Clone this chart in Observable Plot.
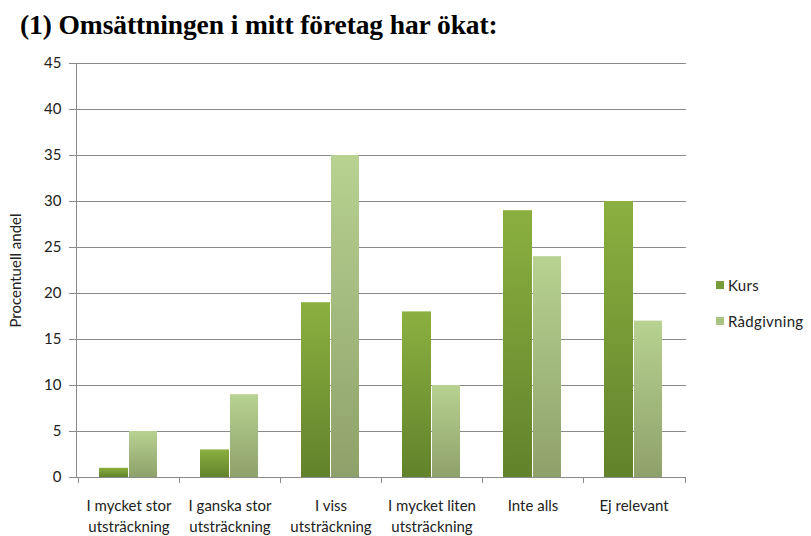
<!DOCTYPE html>
<html><head><meta charset="utf-8">
<script src="https://cdn.jsdelivr.net/npm/d3@7"></script>
<script src="https://cdn.jsdelivr.net/npm/@observablehq/plot@0.6"></script>
<style>
html,body{margin:0;padding:0;background:#fff;}
body{width:811px;height:536px;overflow:hidden;position:relative;font-family:Lato,"Open Sans",sans-serif;}
#title{position:absolute;left:20px;top:9px;font:bold 27.5px "Liberation Serif","DejaVu Serif",serif;color:#000;white-space:nowrap;letter-spacing:-0.1px;}
#chart{position:absolute;left:0;top:50px;}
#legend{position:absolute;left:716px;top:274px;font-size:15px;color:#222;letter-spacing:0.3px;}
#legend .item{display:flex;align-items:center;height:22px;margin-bottom:14px;}
#legend .sw{width:8px;height:8px;margin-right:4px;}
</style>
</head><body>
<div id="title">(1) Omsättningen i mitt företag har ökat:</div>
<div id="chart"></div>
<div id="legend"></div>
<script>
const categories = ["I mycket stor\nutsträckning", "I ganska stor\nutsträckning", "I viss\nutsträckning", "I mycket liten\nutsträckning", "Inte alls", "Ej relevant"];
const seriesNames = ["Kurs", "Rådgivning"];
const kurs = [1, 3, 19, 18, 29, 30];
const radgivning = [5, 9, 35, 10, 24, 17];
const yTicks = [0, 5, 10, 15, 20, 25, 30, 35, 40, 45];
const yLabel = "Procentuell andel";

const kursRows = categories.map((c, i) => ({category: c, value: kurs[i]}));
const radRows = categories.map((c, i) => ({category: c, value: radgivning[i]}));

const legendColors = {"Kurs": "#789c38", "Rådgivning": "#a9c481"};

function defsMark() {
  const g = d3.create("svg:g");
  const defs = g.append("defs");
  const mk = (id, top, bottom) => {
    const lg = defs.append("linearGradient").attr("id", id)
      .attr("x1", 0).attr("y1", 0).attr("x2", 0).attr("y2", 1);
    lg.append("stop").attr("offset", "0%").attr("stop-color", top);
    lg.append("stop").attr("offset", "100%").attr("stop-color", bottom);
  };
  mk("gradKurs", "#8bb040", "#62822b");
  mk("gradRad", "#b7d291", "#8ea16a");
  return g.node();
}

function frameMark(index, scales, values, dimensions) {
  const {width, height, marginLeft, marginRight, marginTop, marginBottom} = dimensions;
  const g = d3.create("svg:g").attr("stroke", "#8a8a8a").attr("stroke-width", 1);
  const y0 = height - marginBottom;
  g.append("line").attr("x1", marginLeft + 0.5).attr("x2", marginLeft + 0.5)
    .attr("y1", marginTop).attr("y2", y0);
  const step = (width - marginLeft - marginRight) / categories.length;
  const xs = categories.map(c => scales.x(c));
  xs.push(xs[xs.length - 1] + step);
  for (const x of xs) {
    g.append("line").attr("x1", Math.round(x) + 0.5).attr("x2", Math.round(x) + 0.5)
      .attr("y1", y0).attr("y2", y0 + 6);
  }
  return g.node();
}

const chart = Plot.plot({
  width: 811,
  height: 486,
  marginLeft: 76,
  marginRight: 125,
  marginTop: 13,
  marginBottom: 59,
  style: {fontFamily: "Lato, 'Open Sans', sans-serif", fontSize: "15px", color: "#222", background: "#fff"},
  x: {domain: categories, type: "band", paddingInner: 0, paddingOuter: 0},
  y: {domain: [0, 45]},
  marks: [
    defsMark,
    Plot.ruleY(yTicks, {stroke: "#8a8a8a", strokeWidth: 1, strokeOpacity: 1}),
    Plot.barY(kursRows, {x: "category", y: "value", fill: "url(#gradKurs)", insetLeft: 21, insetRight: 51}),
    Plot.barY(radRows, {x: "category", y: "value", fill: "url(#gradRad)", insetLeft: 51, insetRight: 22}),
    frameMark,
    Plot.axisY({ticks: yTicks, tickSize: 7, tickPadding: 8, stroke: "#8a8a8a", label: yLabel, labelAnchor: "center", labelOffset: 66, labelArrow: "none", fontSize: 15}),
    Plot.axisX({tickSize: 0, tickPadding: 19, fontSize: 15, lineHeight: 1.4, label: null})
  ]
});
document.getElementById("chart").appendChild(chart);

const legend = document.getElementById("legend");
for (const s of seriesNames) {
  const item = document.createElement("div");
  item.className = "item";
  const sw = document.createElement("span");
  sw.className = "sw";
  sw.style.background = legendColors[s];
  const t = document.createElement("span");
  t.textContent = s;
  item.appendChild(sw); item.appendChild(t);
  legend.appendChild(item);
}
</script>
</body></html>
